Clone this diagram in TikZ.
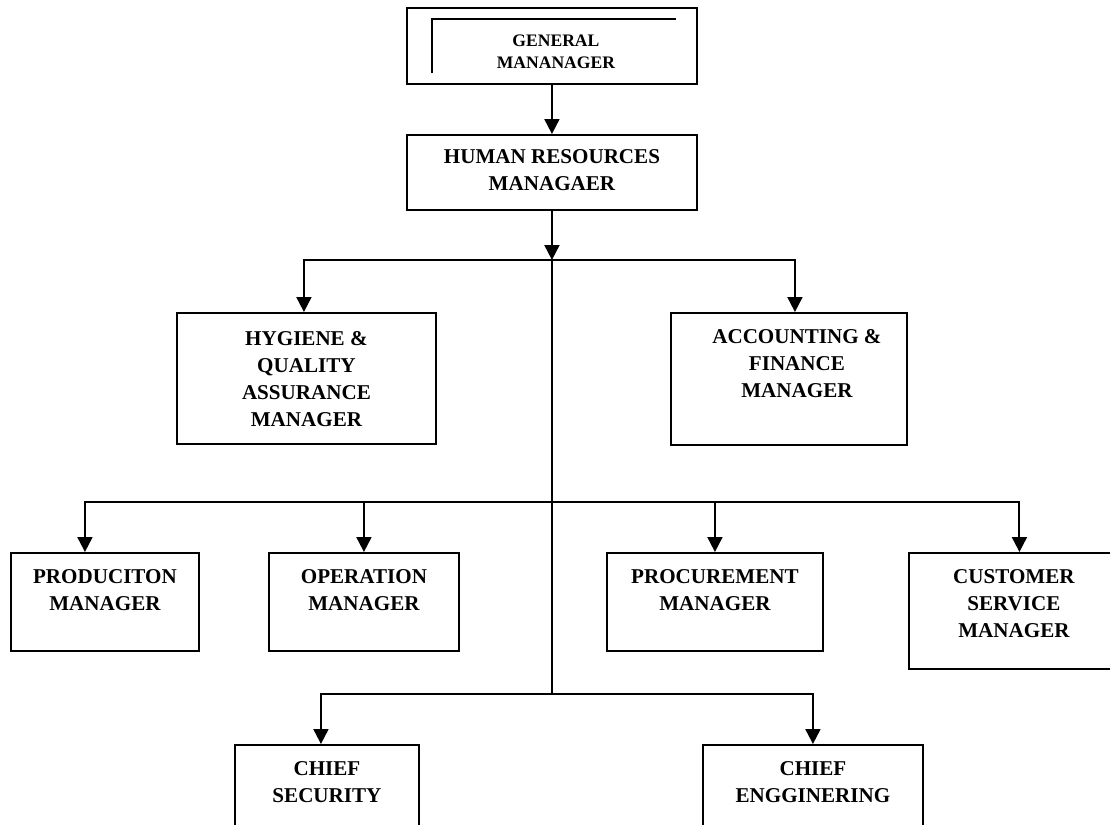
\documentclass[tikz,border=0pt]{standalone}
\usepackage{fontspec}
\setmainfont{Liberation Serif}
\usetikzlibrary{arrows.meta}

\begin{document}
\begin{tikzpicture}[x=0.02cm, y=-0.02cm, line width=1.1pt,
        >={Triangle[length=0.3cm, width=0.3cm]},
        box/.style={draw, rectangle, anchor=north west, inner sep=0pt},
        txt/.style={anchor=north, align=center, inner sep=0pt, yshift=-0.34cm,
            font=\bfseries\fontsize{12}{15.2}\selectfont}]
        \useasboundingbox (0,0) rectangle (1110,825);
        \clip (0,0) rectangle (1110,825);

        \node[box, minimum width=5.8cm, minimum height=1.52cm,
            label={[txt, xshift=0.08cm, yshift=-0.19cm, font=\bfseries\fontsize{10}{13}\selectfont]north:GENERAL\\MANANAGER}] (GM) at (406,7) {};
        \draw[line width=0.8pt] (432,73) |- (676,19);
        \node[box, minimum width=5.8cm, minimum height=1.5cm,
            label={[txt, yshift=0.04cm]north:HUMAN RESOURCES\\MANAGAER}] (HR) at (406,134) {};
        \node[box, minimum width=5.18cm, minimum height=2.62cm,
            label={[txt, yshift=-0.04cm]north:HYGIENE \&\\QUALITY\\ASSURANCE\\MANAGER}] (Hygiene) at (176,312) {};
        \node[box, minimum width=4.72cm, minimum height=2.64cm,
            label={[txt, xshift=0.16cm]north:ACCOUNTING \&\\FINANCE\\MANAGER}] (Accounting) at (670,312) {};
        \node[box, minimum width=3.76cm, minimum height=1.96cm,
            label={[txt]north:PRODUCITON\\MANAGER}] (Production) at (10,552) {};
        \node[box, minimum width=3.8cm, minimum height=1.96cm,
            label={[txt]north:OPERATION\\MANAGER}] (Operation) at (268,552) {};
        \node[box, minimum width=4.32cm, minimum height=1.96cm,
            label={[txt]north:PROCUREMENT\\MANAGER}] (Procurement) at (606,552) {};
        \node[box, minimum width=4.2cm, minimum height=2.32cm,
            label={[txt]north:CUSTOMER\\SERVICE\\MANAGER}] (Customer) at (908,552) {};
        \node[box, minimum width=3.68cm, minimum height=2.4cm,
            label={[txt]north:CHIEF\\SECURITY}] (Security) at (234,744) {};
        \node[box, minimum width=4.4cm, minimum height=2.4cm,
            label={[txt]north:CHIEF\\ENGGINERING}] (Engineering) at (702,744) {};

        \coordinate (j1) at (HR.south |- 0,260);
        \coordinate (j2) at (HR.south |- 0,502);
        \coordinate (j3) at (HR.south |- 0,694);

        \draw[->] (GM.south) -- (HR.north);
        \draw[->] (HR.south) -- (j1);
        \draw[->] (j1) -| ([xshift=-0.05cm]Hygiene.north);
        \draw[->] (j1) -| ([xshift=0.12cm]Accounting.north);
        \draw (j1) -- (j2) -- (j3);
        \draw[->] (j2) -| ([xshift=-0.4cm]Production.north);
        \draw[->] (j2) -| (Operation.north);
        \draw[->] (j2) -| (Procurement.north);
        \draw[->] (j2) -| ([xshift=0.11cm]Customer.north);
        \draw[->] (j3) -| ([xshift=-0.12cm]Security.north);
        \draw[->] (j3) -| (Engineering.north);
    \end{tikzpicture}
\end{document}
